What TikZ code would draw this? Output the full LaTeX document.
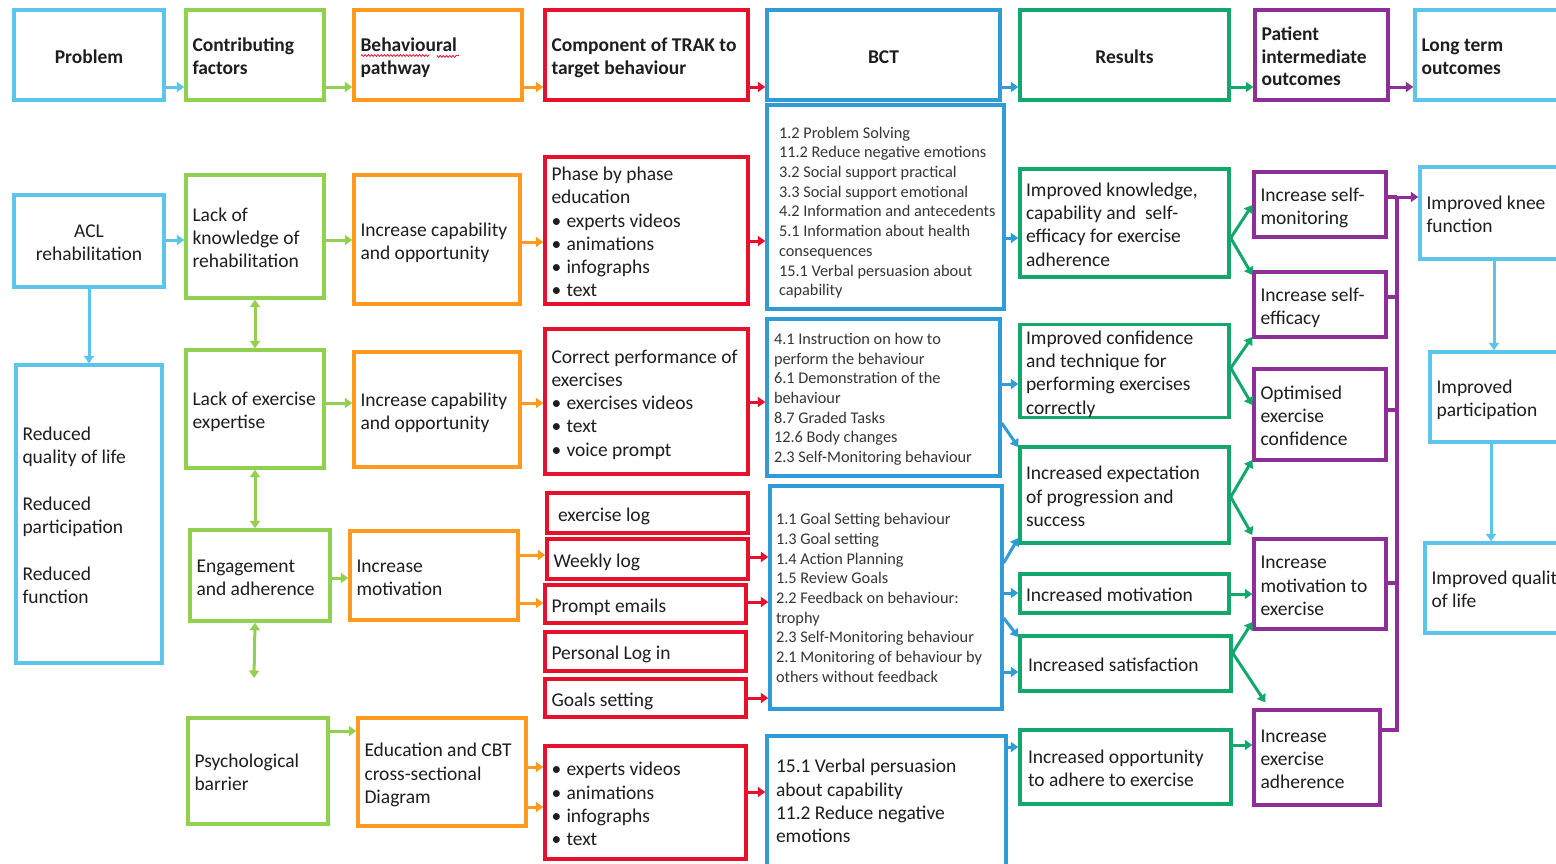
\documentclass[tikz,border=0pt]{standalone}
\usepackage{fontspec}
\setmainfont{Carlito}
\usetikzlibrary{arrows.meta,calc,decorations.pathmorphing}
\definecolor{cLB}{HTML}{5BC5EB}
\definecolor{cLG}{HTML}{92D050}
\definecolor{cOR}{HTML}{FF9A1F}
\definecolor{cRD}{HTML}{E8112D}
\definecolor{cBL}{HTML}{2F9BD7}
\definecolor{cGR}{HTML}{12A86B}
\definecolor{cPU}{HTML}{8E2E97}
\definecolor{txt}{HTML}{1E1E1E}
\definecolor{txt2}{HTML}{353535}
\newcommand\bodyfont{\fontsize{19.5}{23.3}\selectfont}
\newcommand\bctfont{\fontsize{16.3}{19.7}\selectfont}
\newcommand\hdrfont{\fontsize{19.5}{22.5}\selectfont\bfseries}
\newcommand\bul{\makebox[15pt][l]{\textbullet}}
\newcommand\bxdy{3.5pt}
\newcommand\bxgen[9]{%
 \pgfmathsetmacro\bxw{#6-#4}%
 \pgfmathsetmacro\bxh{#7-#5}%
 \pgfmathsetmacro\bxt{#6-#4-2*#2}%
 \pgfmathsetmacro\bxx{(#4+#6)/2}%
 \pgfmathsetmacro\bxy{(#5+#7)/2}%
 \node[bx,#8,minimum width=\bxw pt,minimum height=\bxh pt,inner xsep=#2pt] (#3) at (\bxx,\bxy) {\raisebox{-\bxdy}[\height][\depth]{\makebox[\bxt pt][#1]{\begin{tabular}{@{}#1@{}}#9\end{tabular}}}};}
\newcommand\bx[8][6.5]{\bxgen{l}{#1}{#2}{#3}{#4}{#5}{#6}{#7}{#8}}
\newcommand\bxc[8][6.5]{\bxgen{c}{#1}{#2}{#3}{#4}{#5}{#6}{#7}{#8}}
\newcommand\ha[4][]{\draw[arr,#1] (#2.east |- 0,#4) -- (#3.west |- 0,#4);}
\begin{document}
\begin{tikzpicture}[x=1pt,y=-1pt,
 bx/.style={rectangle,draw,line width=3.4pt,inner ysep=0pt,text=txt,font=\bodyfont,/utils/exec={\def\bxdy{3.5pt}}},
 dy/.code={\def\bxdy{#1}},
 hb/.style={font=\hdrfont},
 bb/.style={},
 sb/.style={font=\bctfont,text=txt2},
 arr/.style={line width=3pt,-{Triangle[length=7.5pt,width=10pt]}},
 darr/.style={line width=3pt,{Triangle[length=7.5pt,width=10pt]}-{Triangle[length=7.5pt,width=10pt]}},
 pl/.style={line width=3.2pt,draw=cPU}]
\useasboundingbox (0,0) rectangle (1556,863);
\clip (0,0) rectangle (1556,863);
\fill[white] (0,0) rectangle (1556,863);
% column 1
\bxc{prob}{14}{10}{164}{100}{hb,draw=cLB}{Problem}
\bxc{acl}{14}{195}{164}{287}{bb,draw=cLB}{ACL\\rehabilitation}
\bx{red}{16}{365}{162}{663}{bb,draw=cLB}{Reduced\\quality of life\\[23.3pt]Reduced\\participation\\[23.3pt]Reduced\\function}
% column 2
\bx{cf}{186}{10}{324}{100}{hb,draw=cLG}{Contributing\\factors}
\bx{lk}{186}{175}{324}{298}{bb,draw=cLG}{Lack of\\knowledge of\\rehabilitation}
\bx{le}{186}{350}{324}{468}{bb,draw=cLG}{Lack of exercise\\expertise}
\bx{ea}{190}{530}{330}{621}{bb,draw=cLG}{Engagement\\and adherence}
\bx{pb}{188}{718}{328}{824}{bb,draw=cLG}{Psychological\\barrier}
\coordinate (eaend) at (254,678);
% column 3
\bx{bp}{354}{10}{522}{100}{hb,draw=cOR}{Behavioural\\pathway}
\bx{ic1}{354}{175}{520}{304}{bb,draw=cOR}{Increase capability\\and opportunity}
\bx{ic2}{354}{352}{520}{467}{bb,draw=cOR}{Increase capability\\and opportunity}
\bx{im}{350}{531}{518}{620}{bb,draw=cOR}{Increase\\motivation}
\bx{ed}{358}{718}{526}{826}{bb,draw=cOR}{Education and CBT\\cross-sectional\\Diagram}
% column 4
\bx{ct}{545}{10}{748}{100}{hb,draw=cRD}{Component of TRAK to\\target behaviour}
\bx{pp}{545}{157}{748}{304}{bb,draw=cRD}{Phase by phase\\education\\\bul experts videos\\\bul animations\\\bul infographs\\\bul text}
\bx{cp}{545}{329}{748}{474}{bb,draw=cRD}{Correct performance of\\exercises\\\bul exercises videos\\\bul text\\\bul voice prompt}
\bx[11]{el}{547}{493}{748}{533}{bb,draw=cRD}{exercise log}
\bx{wl}{547}{539}{748}{579}{bb,draw=cRD}{Weekly log}
\bx{pe}{545}{585}{746}{623}{bb,draw=cRD}{Prompt emails}
\bx{pl}{545}{632}{746}{671}{bb,draw=cRD}{Personal Log in}
\bx{gs}{545}{679}{746}{717}{bb,draw=cRD}{Goals setting}
\bx{vb}{545}{746}{746}{859}{bb,draw=cRD}{\bul experts videos\\\bul animations\\\bul infographs\\\bul text}
% column 5
\bxc{bct}{767}{10}{1000}{100}{hb,draw=cBL}{BCT}
\bx[12]{b1}{767}{105}{1004}{309}{sb,draw=cBL,dy=6pt}{1.2 Problem Solving\\11.2 Reduce negative emotions\\3.2 Social support practical\\3.3 Social support emotional\\4.2 Information and antecedents\\5.1 Information about health\\consequences\\15.1 Verbal persuasion about\\capability}
\bx[7]{b2}{767}{319}{1000}{476}{sb,draw=cBL,dy=2pt}{4.1 Instruction on how to\\perform the behaviour\\6.1 Demonstration of the\\behaviour\\8.7 Graded Tasks\\12.6 Body changes\\2.3 Self-Monitoring behaviour}
\bx[6]{b3}{770}{486}{1002}{709}{sb,draw=cBL,dy=2pt}{1.1 Goal Setting behaviour\\1.3 Goal setting\\1.4 Action Planning\\1.5 Review Goals\\2.2 Feedback on behaviour:\\trophy\\2.3 Self-Monitoring behaviour\\2.1 Monitoring of behaviour by\\others without feedback}
\bx[9]{b4}{767}{736}{1006}{870}{bb,draw=cBL,dy=0pt}{15.1 Verbal persuasion\\about capability\\11.2 Reduce negative\\emotions}
% column 6
\bxc{res}{1020}{10}{1229}{100}{hb,draw=cGR}{Results}
\bx[6]{rk}{1020}{169}{1229}{277}{bb,draw=cGR}{Improved knowledge,\\capability and\ \ self-\\efficacy for exercise\\adherence}
\bx[6]{rc}{1020}{325}{1229}{417}{bb,draw=cGR}{Improved confidence\\and technique for\\performing exercises\\correctly}
\bx[6]{rx}{1020}{447}{1229}{543}{bb,draw=cGR}{Increased expectation\\of progression and\\success}
\bx[6]{rm}{1020}{574}{1229}{613}{bb,draw=cGR}{Increased motivation}
\bx[8]{rs}{1020}{636}{1231}{691}{bb,draw=cGR}{Increased satisfaction}
\bx[8]{ro}{1020}{730}{1231}{804}{bb,draw=cGR}{Increased opportunity\\to adhere to exercise}
% column 7
\bx{pio}{1255}{10}{1388}{100}{hb,draw=cPU}{Patient\\intermediate\\outcomes}
\bx{sm}{1254}{172}{1386}{237}{bb,draw=cPU}{Increase self-\\monitoring}
\bx{se}{1254}{272}{1386}{337}{bb,draw=cPU}{Increase self-\\efficacy}
\bx{oc}{1254}{369}{1386}{460}{bb,draw=cPU}{Optimised\\exercise\\confidence}
\bx{mx}{1254}{539}{1386}{629}{bb,draw=cPU}{Increase\\motivation to\\exercise}
\bx{ad}{1254}{710}{1380}{805}{bb,draw=cPU}{Increase\\exercise\\adherence}
% column 8
\bx{lt}{1415}{10}{1580}{100}{hb,draw=cLB}{Long term\\outcomes}
\bx{kf}{1420}{167}{1580}{259}{bb,draw=cLB}{Improved knee\\function}
\bx{ip}{1430}{352}{1580}{442}{bb,draw=cLB}{Improved\\participation}
\bx{iq}{1425}{543}{1580}{633}{bb,draw=cLB}{Improved quality\\of life}
% spelling underline
\draw[cRD,line width=0.8pt,decorate,decoration={snake,amplitude=0.9pt,segment length=3.2pt}] (361,55.5) -- (428,55.5) (437,55.5) -- (459,55.5);
% header arrows
\ha[cLB]{prob}{cf}{87}
\ha[cLG]{cf}{bp}{87}
\ha[cOR]{bp}{ct}{87}
\ha[cRD]{ct}{bct}{87}
\ha[cBL]{bct}{res}{87}
\ha[cGR]{res}{pio}{87}
\ha[cPU]{pio}{lt}{87}
% column 1 / 2 verticals
\draw[arr,cLB] (acl.south) -- (red.north);
\draw[darr,cLG] (lk.south) -- (le.north);
\draw[darr,cLG] (le.south) -- (le.south |- ea.north);
\draw[darr,cLG] (le.south |- ea.south) -- (eaend);
% row 1
\ha[cLB]{acl}{lk}{240}
\ha[cLG]{lk}{ic1}{240}
\ha[cOR]{ic1}{pp}{242}
\ha[cRD]{pp}{b1}{241}
\ha[cBL]{b1}{rk}{238}
\draw[arr,cGR] (rk.east |- 0,238) -- (sm.west |- 0,205);
\draw[arr,cGR] (rk.east |- 0,238) -- (se.west |- 0,275);
% row 2
\ha[cLG]{le}{ic2}{403}
\ha[cOR]{ic2}{cp}{403}
\ha[cRD]{cp}{b2}{402}
\ha[cBL]{b2}{rc}{384}
\draw[arr,cBL] (b2.east |- 0,423) -- (rx.west |- 0,447);
\draw[arr,cGR] (rc.east |- 0,368) -- (se.west |- 0,337);
\draw[arr,cGR] (rc.east |- 0,368) -- (oc.west |- 0,405);
% row 3
\ha[cLG]{ea}{im}{578}
\ha[cOR]{im}{wl}{555}
\ha[cOR]{im}{pe}{603}
\ha[cRD]{wl}{b3}{557}
\ha[cRD]{pe}{b3}{602}
\ha[cRD]{gs}{b3}{698}
\draw[arr,cBL] (b3.east |- 0,563) -- (rx.west |- 0,538);
\ha[cBL]{b3}{rm}{593}
\draw[arr,cBL] (b3.east |- 0,618) -- (rs.west |- 0,637);
\ha[cBL]{b3}{rs}{672}
\draw[arr,cGR] (rx.east |- 0,497) -- (oc.west |- 0,460);
\draw[arr,cGR] (rx.east |- 0,497) -- (mx.west |- 0,535);
\ha[cGR]{rm}{mx}{594}
\draw[arr,cGR] (rs.east |- 0,653) -- (mx.west |- 0,622);
\draw[arr,cGR] (rs.east |- 0,653) -- ($(ad.north west)+(13,-6)$);
% row 4
\ha[cLG]{pb}{ed}{731}
\ha[cOR]{ed}{vb}{767}
\ha[cOR]{ed}{vb}{807}
\ha[cRD]{vb}{b4}{792}
\ha[cBL]{b4}{ro}{747}
\ha[cGR]{ro}{ad}{745}
% purple bus
\coordinate (bus) at (1397,0);
\draw[pl] (sm.east |- 0,197) -- (bus |- 0,197);
\draw[pl] (se.east |- 0,297) -- (bus |- 0,297);
\draw[pl] (oc.east |- 0,410) -- (bus |- 0,410);
\draw[pl] (mx.east |- 0,583) -- (bus |- 0,583);
\draw[pl] (ad.east |- 0,730) -- (bus |- 0,730) -- (bus |- 0,197);
\draw[arr,cPU] (bus |- 0,197) -- (kf.west |- 0,197);
% long-term column
\draw[arr,cLB] (kf.south -| 1494,0) -- (ip.north -| 1494,0);
\draw[arr,cLB] (ip.south -| 1491,0) -- (iq.north -| 1491,0);
\end{tikzpicture}
\end{document}
